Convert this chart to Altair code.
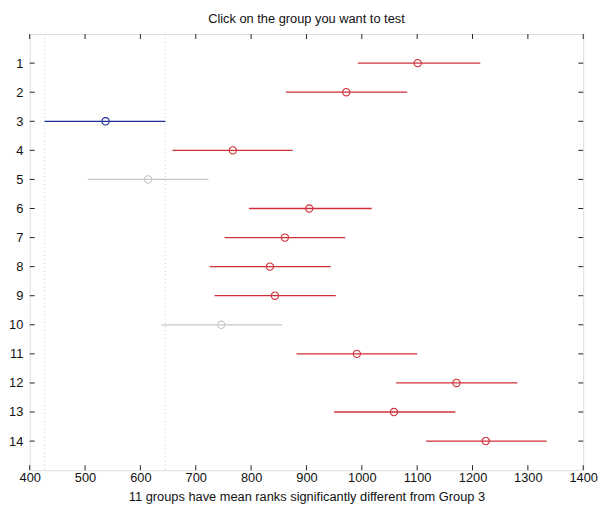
import altair as alt
import pandas as pd

# ---- data ----
groups = list(range(1, 15))
centers = [1101, 972, 537, 767, 614, 905, 861, 834, 843, 746, 991, 1171, 1058, 1224]
lowers = [993, 863, 427, 658, 505, 796, 752, 725, 734, 638, 882, 1062, 950, 1116]
uppers = [1214, 1082, 645, 875, 723, 1018, 970, 944, 953, 856, 1100, 1281, 1169, 1334]
status = ["sig", "sig", "sel", "sig", "ns", "sig", "sig", "sig", "sig", "ns",
          "sig", "sig", "sig", "sig"]
x_ticks = [400, 500, 600, 700, 800, 900, 1000, 1100, 1200, 1300, 1400]
y_ticks = groups
selected = 3

title_text = "Click on the group you want to test"
xlabel_text = "11 groups have mean ranks significantly different from Group 3"

df = pd.DataFrame({"group": groups, "center": centers, "lower": lowers,
                   "upper": uppers, "status": status})
sel_idx = groups.index(selected)
ref = pd.DataFrame({"x": [lowers[sel_idx], uppers[sel_idx]]})
xt = pd.DataFrame({"x": x_ticks})
yt = pd.DataFrame({"y": y_ticks})

W, H = 561, 442
FONT = "Liberation Sans"
TICK_COLOR = "#222222"

xscale = alt.Scale(domain=[400, 1400], nice=False, zero=False)
yscale = alt.Scale(domain=[0, 15], nice=False, zero=False, reverse=True)
cscale = alt.Scale(domain=["sig", "sel", "ns"], range=["#d0303a", "#1f2f99", "#c8c8c8"])

xaxis = alt.Axis(values=x_ticks, title=xlabel_text, grid=False, domain=False, ticks=False,
                 tickSize=0, labelPadding=1, titlePadding=7, labelFont=FONT,
                 titleFont=FONT, labelFontSize=13, titleFontSize=13,
                 titleFontWeight="normal", labelColor="#111", titleColor="#111",
                 labelFlush=False, labelOverlap=False, format="d")
yaxis = alt.Axis(values=y_ticks, title=None, grid=False, domain=False, ticks=False,
                 tickSize=0, labelPadding=7, labelFont=FONT, labelFontSize=13,
                 labelColor="#111", labelOverlap=False, labelBound=False, format="d")

base = alt.Chart(df)

ref_lines = alt.Chart(ref).mark_rule(color="#c4c4c4", strokeDash=[1, 3], strokeWidth=1).encode(
    x=alt.X("x:Q", scale=xscale, axis=xaxis)
)

bars = base.mark_rule(strokeWidth=1.3).encode(
    x=alt.X("lower:Q", scale=xscale, axis=xaxis),
    x2="upper:Q",
    y=alt.Y("group:Q", scale=yscale, axis=yaxis),
    color=alt.Color("status:N", scale=cscale, legend=None),
)

points = base.mark_point(shape="circle", filled=False, size=55, strokeWidth=1.1, opacity=1).encode(
    x=alt.X("center:Q", scale=xscale, axis=xaxis),
    y=alt.Y("group:Q", scale=yscale, axis=yaxis),
    color=alt.Color("status:N", scale=cscale, legend=None),
)

# inward ticks on all four sides (MATLAB style)
xt_bottom = alt.Chart(xt).mark_rule(color=TICK_COLOR, strokeWidth=1).encode(
    x=alt.X("x:Q", scale=xscale, axis=xaxis), y=alt.value(H), y2=alt.value(H - 5))
xt_top = alt.Chart(xt).mark_rule(color=TICK_COLOR, strokeWidth=1).encode(
    x=alt.X("x:Q", scale=xscale, axis=xaxis), y=alt.value(0), y2=alt.value(5))
yt_left = alt.Chart(yt).mark_rule(color=TICK_COLOR, strokeWidth=1).encode(
    y=alt.Y("y:Q", scale=yscale, axis=yaxis), x=alt.value(0), x2=alt.value(5))
yt_right = alt.Chart(yt).mark_rule(color=TICK_COLOR, strokeWidth=1).encode(
    y=alt.Y("y:Q", scale=yscale, axis=yaxis), x=alt.value(W), x2=alt.value(W - 5))

chart = alt.layer(ref_lines, bars, points, xt_bottom, xt_top, yt_left, yt_right).properties(
    width=W, height=H,
    title=alt.TitleParams(title_text, font=FONT, fontSize=13, fontWeight="normal",
                          color="#111", anchor="middle", offset=8),
    autosize="none",
    padding={"left": 22, "top": 23, "right": 16, "bottom": 40},
).configure_view(stroke="#222222", strokeWidth=1.3).configure_axis(
    labelOverlap=False
).configure(background="white")

chart.save("out.html", embed_options={"renderer": "svg", "actions": False})
